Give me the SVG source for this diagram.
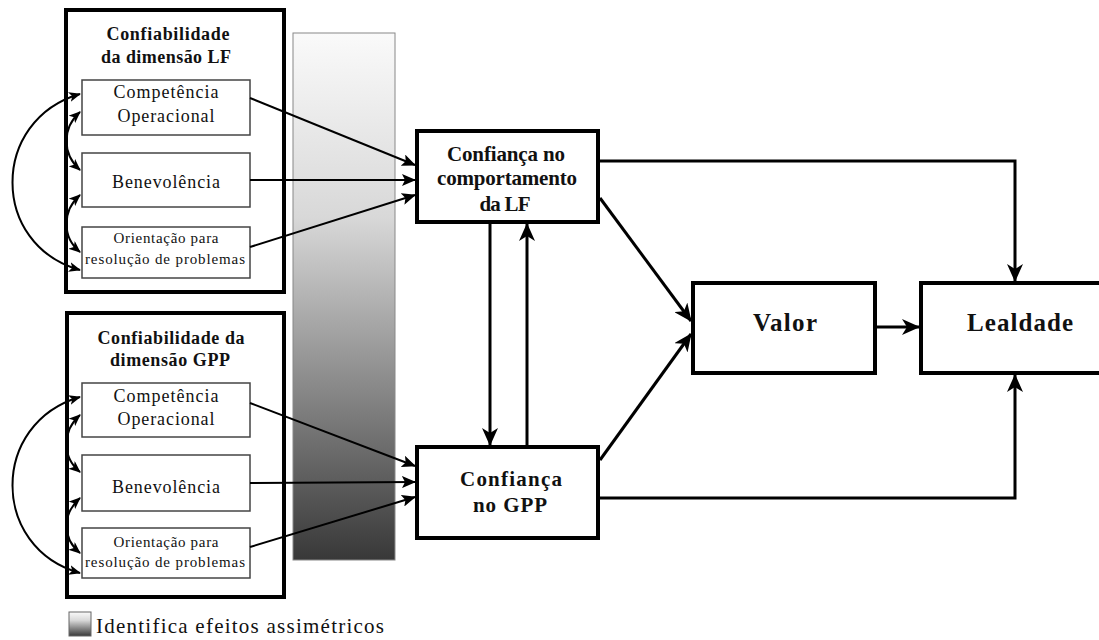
<svg xmlns="http://www.w3.org/2000/svg" width="1099" height="640" viewBox="0 0 1099 640">
<defs>
<linearGradient id="grad" x1="0" y1="0" x2="0" y2="1">
<stop offset="0" stop-color="#fafafa"/>
<stop offset="0.35" stop-color="#d8d8d8"/>
<stop offset="1" stop-color="#383838"/>
</linearGradient>
<marker id="ah" viewBox="0 0 14 12" refX="13" refY="6" markerWidth="14" markerHeight="12" markerUnits="userSpaceOnUse" orient="auto-start-reverse">
<path d="M0,0 L14,6 L0,12 L3,6 Z" fill="#000"/>
</marker>
<marker id="ahb" viewBox="0 0 18 16" refX="17" refY="8" markerWidth="18" markerHeight="16" markerUnits="userSpaceOnUse" orient="auto">
<path d="M0,0 L18,8 L0,16 L5,8 Z" fill="#000"/>
</marker>
<marker id="ahs" viewBox="0 0 12 10" refX="11" refY="5" markerWidth="12" markerHeight="10" markerUnits="userSpaceOnUse" orient="auto-start-reverse">
<path d="M0,0 L12,5 L0,10 L3,5 Z" fill="#000"/>
</marker>
</defs>
<style>
.outer{fill:#fff;stroke:#000;stroke-width:4}
.inner{fill:#fff;stroke:#444;stroke-width:1.5}
.main{fill:#fff;stroke:#000;stroke-width:4}
.t{font-family:"Liberation Serif","Times New Roman",serif;fill:#111;text-anchor:middle}
.b{font-weight:bold}
.c{fill:none;stroke:#000}
</style>
<rect width="1099" height="640" fill="#fff"/>

<g id="gradient-bar">
<rect x="293" y="33" width="102" height="527" fill="url(#grad)" stroke="#888" stroke-width="1"/>
</g>

<g id="conf-lf">
<rect class="outer" x="66" y="10" width="218" height="282"/>
<text class="t b" x="168" y="40" font-size="18" textLength="123" lengthAdjust="spacing">Confiabilidade</text>
<text class="t b" x="166" y="63" font-size="18" textLength="130" lengthAdjust="spacing">da dimensão LF</text>
</g>
<g id="lf-comp">
<rect class="inner" x="82" y="80" width="168" height="55"/>
<text class="t" x="166" y="98" font-size="18" textLength="105" lengthAdjust="spacing">Competência</text>
<text class="t" x="166" y="122" font-size="18" textLength="97" lengthAdjust="spacing">Operacional</text>
</g>
<g id="lf-benev">
<rect class="inner" x="82" y="153" width="168" height="54"/>
<text class="t" x="166" y="188" font-size="18" textLength="108" lengthAdjust="spacing">Benevolência</text>
</g>
<g id="lf-orient">
<rect class="inner" x="82" y="227" width="168" height="51"/>
<text class="t" x="166" y="243" font-size="15" textLength="105" lengthAdjust="spacing">Orientação para</text>
<text class="t" x="165" y="264" font-size="15" textLength="160" lengthAdjust="spacing">resolução de problemas</text>
</g>

<g id="conf-gpp">
<rect class="outer" x="67" y="313" width="217" height="284"/>
<text class="t b" x="171" y="344" font-size="18" textLength="147" lengthAdjust="spacing">Confiabilidade da</text>
<text class="t b" x="170" y="366" font-size="18" textLength="120" lengthAdjust="spacing">dimensão GPP</text>
</g>
<g id="gpp-comp">
<rect class="inner" x="82" y="383" width="168" height="54"/>
<text class="t" x="166" y="402" font-size="18" textLength="105" lengthAdjust="spacing">Competência</text>
<text class="t" x="166" y="425" font-size="18" textLength="97" lengthAdjust="spacing">Operacional</text>
</g>
<g id="gpp-benev">
<rect class="inner" x="82" y="455" width="168" height="56"/>
<text class="t" x="166" y="493" font-size="18" textLength="108" lengthAdjust="spacing">Benevolência</text>
</g>
<g id="gpp-orient">
<rect class="inner" x="82" y="528" width="168" height="50"/>
<text class="t" x="166" y="547" font-size="15" textLength="105" lengthAdjust="spacing">Orientação para</text>
<text class="t" x="165" y="567" font-size="15" textLength="160" lengthAdjust="spacing">resolução de problemas</text>
</g>

<g id="confianca-lf">
<rect class="main" x="417" y="131" width="181" height="91"/>
<text class="t b" x="506" y="161" font-size="21" textLength="118" lengthAdjust="spacing">Confiança no</text>
<text class="t b" x="507" y="185" font-size="21" textLength="140" lengthAdjust="spacing">comportamento</text>
<text class="t b" x="505" y="211" font-size="21" textLength="51" lengthAdjust="spacing">da LF</text>
</g>
<g id="confianca-gpp">
<rect class="main" x="417" y="447" width="181" height="91"/>
<text class="t b" x="511" y="486" font-size="21" textLength="102" lengthAdjust="spacing">Confiança</text>
<text class="t b" x="510" y="512" font-size="21" textLength="74" lengthAdjust="spacing">no GPP</text>
</g>
<g id="valor">
<rect class="main" x="693" y="283" width="182" height="90"/>
<text class="t b" x="785" y="331" font-size="25" textLength="64" lengthAdjust="spacing">Valor</text>
</g>
<g id="lealdade">
<rect class="main" x="921" y="283" width="185" height="90"/>
<text class="t b" x="1020" y="331" font-size="25" textLength="106" lengthAdjust="spacing">Lealdade</text>
</g>

<g id="legend">
<rect x="69" y="612" width="22" height="24" fill="url(#grad)" stroke="#666" stroke-width="1"/>
<text class="t" x="96" y="633" font-size="21" style="text-anchor:start" textLength="288" lengthAdjust="spacing">Identifica efeitos assimétricos</text>
</g>

<g id="connectors">
<!-- correlations LF -->
<path class="c" stroke-width="2" d="M80,94 C-10,120 -10,245 80,270" marker-start="url(#ahs)" marker-end="url(#ahs)"/>
<path class="c" stroke-width="2" d="M80,112 C62,128 62,154 80,170" marker-start="url(#ahs)" marker-end="url(#ahs)"/>
<path class="c" stroke-width="2" d="M80,195 C62,211 62,237 80,252" marker-start="url(#ahs)" marker-end="url(#ahs)"/>
<!-- correlations GPP -->
<path class="c" stroke-width="2" d="M80,397 C-10,423 -10,548 80,573" marker-start="url(#ahs)" marker-end="url(#ahs)"/>
<path class="c" stroke-width="2" d="M80,415 C62,431 62,457 80,472" marker-start="url(#ahs)" marker-end="url(#ahs)"/>
<path class="c" stroke-width="2" d="M80,498 C62,514 62,538 80,553" marker-start="url(#ahs)" marker-end="url(#ahs)"/>
<!-- LF to confianca LF -->
<line class="c" stroke-width="2" x1="250" y1="98" x2="415" y2="165" marker-end="url(#ah)"/>
<line class="c" stroke-width="2" x1="250" y1="180" x2="415" y2="180" marker-end="url(#ah)"/>
<line class="c" stroke-width="2" x1="250" y1="247" x2="415" y2="195" marker-end="url(#ah)"/>
<!-- GPP to confianca GPP -->
<line class="c" stroke-width="2" x1="250" y1="403" x2="415" y2="466" marker-end="url(#ah)"/>
<line class="c" stroke-width="2" x1="250" y1="483" x2="415" y2="482" marker-end="url(#ah)"/>
<line class="c" stroke-width="2" x1="250" y1="547" x2="415" y2="497" marker-end="url(#ah)"/>
<!-- verticals -->
<line class="c" stroke-width="3" x1="490" y1="222" x2="490" y2="445" marker-end="url(#ahb)"/>
<line class="c" stroke-width="3" x1="527" y1="447" x2="527" y2="224" marker-end="url(#ahb)"/>
<!-- to valor -->
<line class="c" stroke-width="3" x1="600" y1="198" x2="691" y2="321" marker-end="url(#ahb)"/>
<line class="c" stroke-width="3" x1="600" y1="460" x2="691" y2="334" marker-end="url(#ahb)"/>
<!-- valor to lealdade -->
<line class="c" stroke-width="3" x1="875" y1="327" x2="919" y2="327" marker-end="url(#ahb)"/>
<!-- direct to lealdade -->
<polyline class="c" stroke-width="3" points="598,161 1015,161 1015,281" marker-end="url(#ahb)"/>
<polyline class="c" stroke-width="3" points="598,498 1015,498 1015,375" marker-end="url(#ahb)"/>
</g>
</svg>
